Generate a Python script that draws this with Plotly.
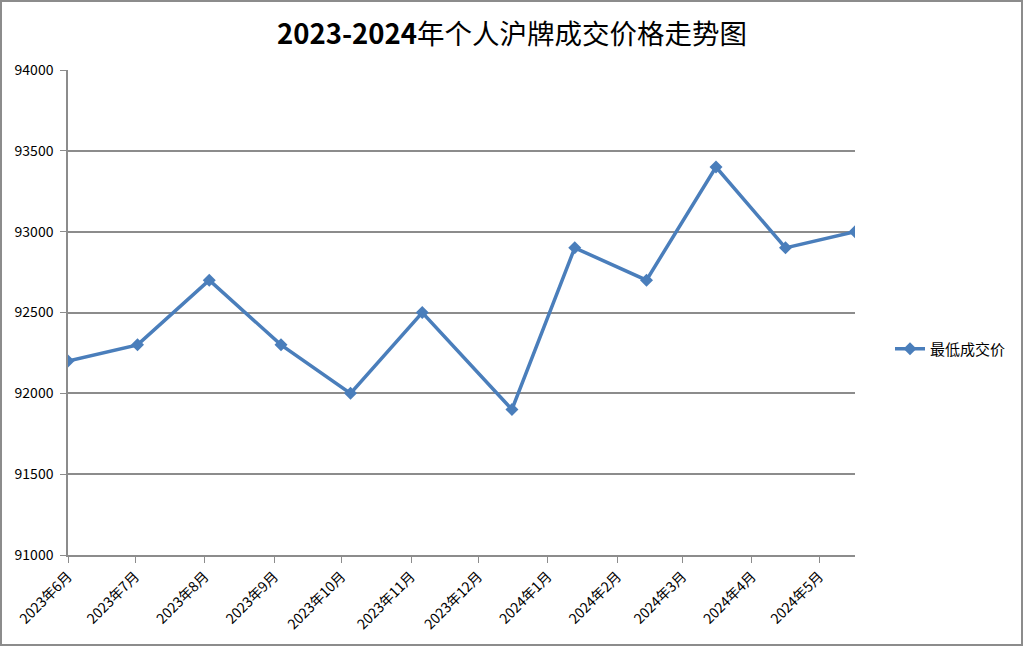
import plotly.graph_objects as go

# auction dates and lowest accepted price
dates = ["2023-06-01", "2023-07-02", "2023-08-03", "2023-09-04", "2023-10-05", "2023-11-06",
         "2023-12-16", "2024-01-13", "2024-02-14", "2024-03-16", "2024-04-16", "2024-05-17"]
lowest_price = [92200, 92300, 92700, 92300, 92000, 92500,
                91900, 92900, 92700, 93400, 92900, 93000]

tick_dates = ["2023-06-01", "2023-07-01", "2023-08-01", "2023-09-01", "2023-10-01", "2023-11-01",
              "2023-12-01", "2024-01-01", "2024-02-01", "2024-03-01", "2024-04-01", "2024-05-01"]
tick_labels = ["2023年6月", "2023年7月", "2023年8月", "2023年9月", "2023年10月", "2023年11月",
               "2023年12月", "2024年1月", "2024年2月", "2024年3月", "2024年4月", "2024年5月"]

W, H = 1024, 648
L, R, T, B = 68, 169, 70, 93
pw, ph = W - L - R, H - T - B

fig = go.Figure()

fig.add_trace(go.Scatter(
    x=dates,
    y=lowest_price,
    mode='lines+markers',
    name='最低成交价',
    line=dict(color='#4A7EBB', width=3.5),
    marker=dict(symbol='diamond', size=10, color='#4A7EBB')
))

axis_grey = '#8c8c8c'

fig.update_layout(
    width=W, height=H,
    margin=dict(l=L, r=R, t=T, b=B),
    paper_bgcolor='white',
    plot_bgcolor='white',
    font=dict(family='Noto Sans CJK SC, Liberation Sans, sans-serif', size=14, color='black'),
    title=dict(
        text='<b>2023-2024</b>年个人沪牌成交价格走势图',
        x=0.5, xanchor='center', xref='container',
        y=1 - 34 / H, yanchor='middle',
        font=dict(size=27.5, color='black')
    ),
    xaxis=dict(
        type='date',
        range=[dates[0], dates[-1]],
        tickmode='array',
        tickvals=tick_dates,
        ticktext=tick_labels,
        tickangle=-45,
        ticks='outside', ticklen=6, tickcolor=axis_grey,
        showline=True, linecolor=axis_grey, linewidth=1.5,
        showgrid=False, zeroline=False
    ),
    yaxis=dict(
        range=[91000, 94000],
        dtick=500,
        tickformat='d',
        ticks='outside', ticklen=6, tickcolor=axis_grey,
        ticklabelstandoff=4,
        showline=True, linecolor=axis_grey, linewidth=1.5,
        showgrid=True, gridcolor=axis_grey, gridwidth=1.5,
        zeroline=False
    ),
    showlegend=True,
    legend=dict(
        x=(890 - L) / pw, xanchor='left',
        y=(H - B - 349) / ph, yanchor='middle',
        font=dict(size=15),
        bgcolor='rgba(0,0,0,0)'
    )
)

# outer chart border
fig.add_shape(
    type='rect', xref='paper', yref='paper',
    x0=-(L - 1) / pw, x1=1 + (R - 2) / pw,
    y0=-(B - 3) / ph, y1=1 + (T - 1) / ph,
    line=dict(color=axis_grey, width=2), layer='below'
)

fig.write_html("out.html", config={'displayModeBar': False},
               post_script="document.body.style.margin='0';")
